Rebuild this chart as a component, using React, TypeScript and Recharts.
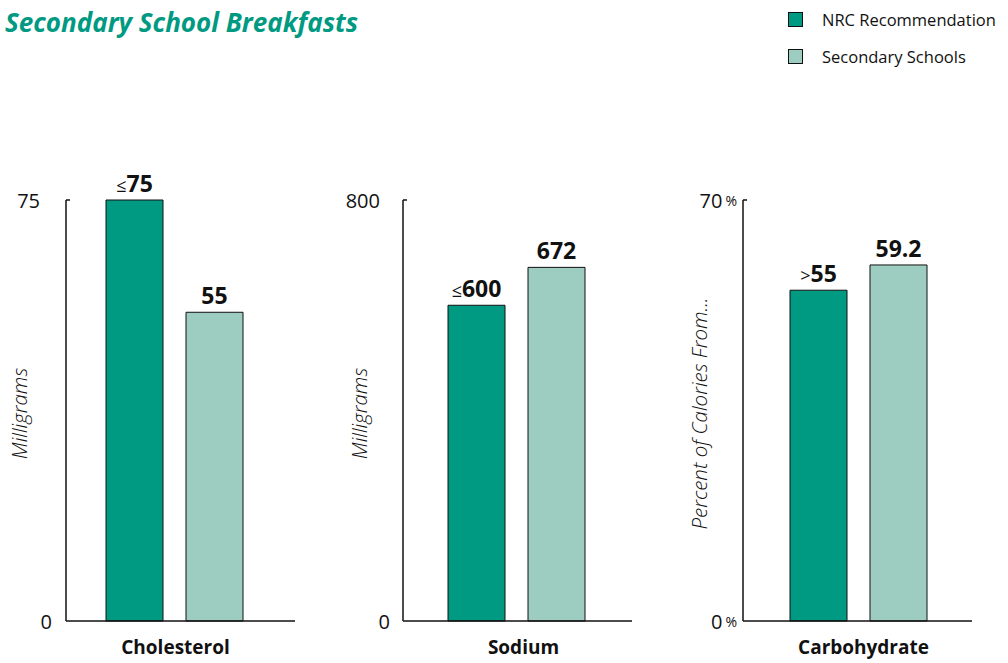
import React from "react";
import { BarChart, Bar, XAxis, YAxis, LabelList, Label } from "recharts";

// values
const nutrients = ["Cholesterol", "Sodium", "Carbohydrate"];
const nrcValues = [75, 600, 55];
const schoolValues = [55, 672, 59.2];
const nrcPrefix = ["\u2264", "\u2264", ">"];
const axisMax = [75, 800, 70];
const axisUnits = ["Milligrams", "Milligrams", "Percent of Calories From..."];
const tickSuffix = ["", "", "%"];

const DARK = "#009982";
const LIGHT = "#9dcdc1";
const FONT = "'Open Sans', 'Noto Sans', sans-serif";

// panel layout: chart left edge, y-axis width, tick label gaps (top / zero), x padding, category label shift
const panels = [
  { left: 0, axisW: 66, tickGap: 26, zeroGap: 14, padL: 39, padR: 51, labelDx: 1 },
  { left: 340, axisW: 63, tickGap: 23, zeroGap: 13, padL: 44, padR: 46, labelDx: 7 },
  { left: 680, axisW: 63, tickGap: 6, zeroGap: 6, padL: 46, padR: 44, labelDx: 5 },
];

const Panel = ({ i }: { i: number }) => {
  const { left, axisW, tickGap, zeroGap, padL, padR, labelDx } = panels[i];
  const data = [{ name: nutrients[i], nrc: nrcValues[i], school: schoolValues[i] }];
  const max = axisMax[i];
  const suffix = tickSuffix[i];

  const yTick = (props: any) => {
    const { x, y, payload } = props;
    const gap = payload.value === 0 ? zeroGap : tickGap;
    return (
      <g>
        <text x={x - gap} y={y} textAnchor="end" dominantBaseline="central" fontFamily={FONT} fontSize={20} fill="#111">
          {payload.value}
          {suffix && <tspan fontSize={14} dx={3}>{suffix}</tspan>}
        </text>
        {payload.value === max && <line x1={x} y1={y} x2={x + 4} y2={y} stroke="#111" strokeWidth={1.5} />}
      </g>
    );
  };

  const xTick = (props: any) => {
    const { x, y, payload } = props;
    return (
      <text x={x + labelDx} y={y + 33} textAnchor="middle" fontFamily={FONT} fontWeight={700} fontSize={19} fill="#111">
        {payload.value}
      </text>
    );
  };

  const valueLabel = (prefix: string) => (props: any) => {
    const { x, y, width, value } = props;
    return (
      <text x={x + width / 2} y={y - 8} textAnchor="middle" fontFamily={FONT} fill="#111">
        {prefix && <tspan fontSize={18} fontWeight={400}>{prefix}</tspan>}
        <tspan fontSize={23} fontWeight={700}>{value}</tspan>
      </text>
    );
  };

  const unitLabel = (props: any) => {
    const vb = props.viewBox;
    const cx = vb.x + 19;
    const cy = vb.y + vb.height / 2 + 3;
    return (
      <text x={cx} y={cy} transform={`rotate(-90, ${cx}, ${cy})`} textAnchor="middle" dominantBaseline="central"
        fontFamily={FONT} fontStyle="italic" fontWeight={300} fontSize={20.5} fill="#111">
        {axisUnits[i]}
      </text>
    );
  };

  const w = i === 2 ? 328 : 340;
  return (
    <div style={{ position: "absolute", left, top: 0 }}>
      <BarChart width={w} height={663} data={data} margin={{ top: 200, right: w - axisW - 229, bottom: 12, left: 0 }}
        barSize={57} barGap={23}>
        <XAxis dataKey="name" height={30} tick={xTick} tickLine={false} tickSize={0} tickMargin={0}
          padding={{ left: padL, right: padR }} axisLine={{ stroke: "#111", strokeWidth: 1.5 }} />
        <YAxis width={axisW} domain={[0, max]} ticks={[0, max]} tick={yTick} tickLine={false} tickSize={0} tickMargin={0}
          axisLine={{ stroke: "#111", strokeWidth: 1.5 }}>
          <Label content={unitLabel} />
        </YAxis>
        <Bar dataKey="nrc" fill={DARK} stroke="#111" strokeWidth={1} isAnimationActive={false}>
          <LabelList dataKey="nrc" content={valueLabel(nrcPrefix[i])} />
        </Bar>
        <Bar dataKey="school" fill={LIGHT} stroke="#111" strokeWidth={1} isAnimationActive={false}>
          <LabelList dataKey="school" content={valueLabel("")} />
        </Bar>
      </BarChart>
    </div>
  );
};

const legendItems = [
  { label: "NRC Recommendation", color: DARK },
  { label: "Secondary Schools", color: LIGHT },
];

export default function App() {
  return (
    <div style={{ position: "absolute", left: 0, top: 0, width: 1008, height: 663, overflow: "hidden", background: "#fff", fontFamily: FONT }}>
      <div style={{ position: "absolute", left: 5, top: 4, fontSize: 26, fontWeight: 700, fontStyle: "italic", color: DARK, whiteSpace: "nowrap" }}>
        Secondary School Breakfasts
      </div>
      {legendItems.map((item, k) => (
        <div key={item.label} style={{ position: "absolute", left: 788, top: 8 + k * 37, display: "flex", alignItems: "center", whiteSpace: "nowrap" }}>
          <span style={{ width: 13, height: 13, background: item.color, border: "1px solid #111", display: "inline-block" }} />
          <span style={{ marginLeft: 19, fontSize: 16.5, color: "#111" }}>{item.label}</span>
        </div>
      ))}
      {nutrients.map((_, i) => (
        <Panel key={i} i={i} />
      ))}
    </div>
  );
}
